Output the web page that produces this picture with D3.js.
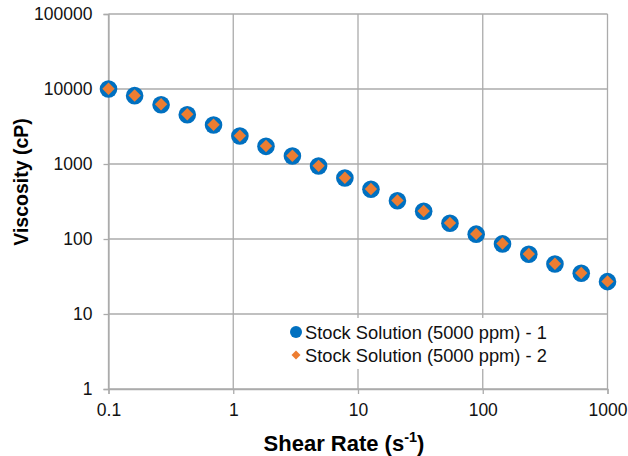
<!DOCTYPE html>
<html>
<head>
<meta charset="utf-8">
<script src="https://cdn.jsdelivr.net/npm/d3@7"></script>
<style>
  html, body { margin: 0; padding: 0; background: #fff; }
  svg { display: block; font-family: "Liberation Sans", Arial, sans-serif; }
</style>
</head>
<body>
<svg id="chart" width="628" height="456"></svg>
<script>
// ---- Data ----
const shearRate = [0.1, 0.162, 0.264, 0.428, 0.695, 1.13, 1.83, 2.98, 4.83, 7.85,
                   12.7, 20.7, 33.6, 54.6, 88.6, 144, 234, 379, 616, 1000];
const series1 = [10000, 8150, 6180, 4540, 3310, 2360, 1720, 1280, 940, 650,
                 460, 324, 234, 162, 116, 86, 62.5, 46.4, 34.9, 27];
const series2 = [10100, 8200, 6250, 4600, 3330, 2380, 1740, 1290, 945, 655,
                 465, 327, 236, 164, 117, 87, 63, 46.8, 35.2, 27.2];
const seriesNames = ["Stock Solution (5000 ppm) - 1", "Stock Solution (5000 ppm) - 2"];
const xTicks = [0.1, 1, 10, 100, 1000];
const xTickLabels = ["0.1", "1", "10", "100", "1000"];
const yTicks = [1, 10, 100, 1000, 10000, 100000];
const yTickLabels = ["1", "10", "100", "1000", "10000", "100000"];

(function () {
// ---- Layout ----
const svg = d3.select("#chart");
const pL = 108.5, pR = 607.5, pT = 14, pB = 389;
const x = d3.scaleLog().domain([0.1, 1000]).range([pL, pR]);
const y = d3.scaleLog().domain([1, 100000]).range([pB, pT]);
const gridColor = "#ababab";
const blue = "#0070C0", orange = "#ED7D31";

// gridlines
const grid = svg.append("g");
grid.selectAll("line.gx").data(xTicks).enter().append("line")
  .attr("x1", d => x(d)).attr("x2", d => x(d))
  .attr("y1", pT).attr("y2", pB)
  .attr("stroke", gridColor).attr("stroke-width", 1.3);
grid.selectAll("line.gy").data(yTicks).enter().append("line")
  .attr("x1", pL).attr("x2", pR)
  .attr("y1", d => y(d)).attr("y2", d => y(d))
  .attr("stroke", gridColor).attr("stroke-width", 1.3);

// axes
const xAxis = d3.axisBottom(x).tickValues(xTicks)
  .tickFormat((d, i) => xTickLabels[i]).tickSize(5).tickPadding(10);
const gx = svg.append("g").attr("transform", `translate(0,${pB})`).call(xAxis);
const yAxis = d3.axisLeft(y).tickValues(yTicks)
  .tickFormat((d, i) => yTickLabels[i]).tickSize(5).tickPadding(11);
const gy = svg.append("g").attr("transform", `translate(${pL},0)`).call(yAxis);
[gx, gy].forEach(g => {
  g.select(".domain").attr("stroke", gridColor).attr("stroke-width", 1.3);
  g.selectAll(".tick line").attr("stroke", gridColor).attr("stroke-width", 1.3);
  g.selectAll(".tick text").attr("fill", "#111")
    .style("font-size", "17.5px").style("font-family", '"Liberation Sans", Arial, sans-serif');
});

// legend background
const lg = svg.append("g");
lg.append("rect").attr("x", 285).attr("y", 318).attr("width", 272).attr("height", 51).attr("fill", "#fff");

// series 1 circles
svg.append("g").selectAll("circle").data(shearRate).enter().append("circle")
  .attr("cx", d => x(d)).attr("cy", (d, i) => y(series1[i]))
  .attr("r", 8.8).attr("fill", blue);

// series 2 diamonds
svg.append("g").selectAll("path").data(shearRate).enter().append("path")
  .attr("d", "M0,-6.2L6.2,0L0,6.2L-6.2,0Z")
  .attr("transform", (d, i) => `translate(${x(d)},${y(series2[i])})`)
  .attr("fill", orange);

// legend items
lg.append("circle").attr("cx", 296).attr("cy", 332).attr("r", 6).attr("fill", blue);
lg.append("path").attr("d", "M0,-4.5L4.5,0L0,4.5L-4.5,0Z")
  .attr("transform", "translate(296,355)").attr("fill", orange);
lg.selectAll("text").data(seriesNames).enter().append("text")
  .attr("x", 305).attr("y", (d, i) => 338.5 + i * 23)
  .attr("fill", "#111").style("font-size", "18.3px").text(d => d);

// axis titles
const xt = svg.append("text").attr("x", 344).attr("y", 451)
  .attr("text-anchor", "middle").attr("font-weight", "bold").style("font-size", "22px").attr("fill", "#000");
xt.append("tspan").text("Shear Rate (s");
xt.append("tspan").attr("dy", "-9").style("font-size", "14.5px").text("-1");
xt.append("tspan").attr("dy", "9").text(")");

svg.append("text").attr("transform", "translate(28,182) rotate(-90)")
  .attr("text-anchor", "middle").attr("font-weight", "bold").style("font-size", "19.5px")
  .attr("fill", "#000").text("Viscosity (cP)");
})();
</script>
</body>
</html>
